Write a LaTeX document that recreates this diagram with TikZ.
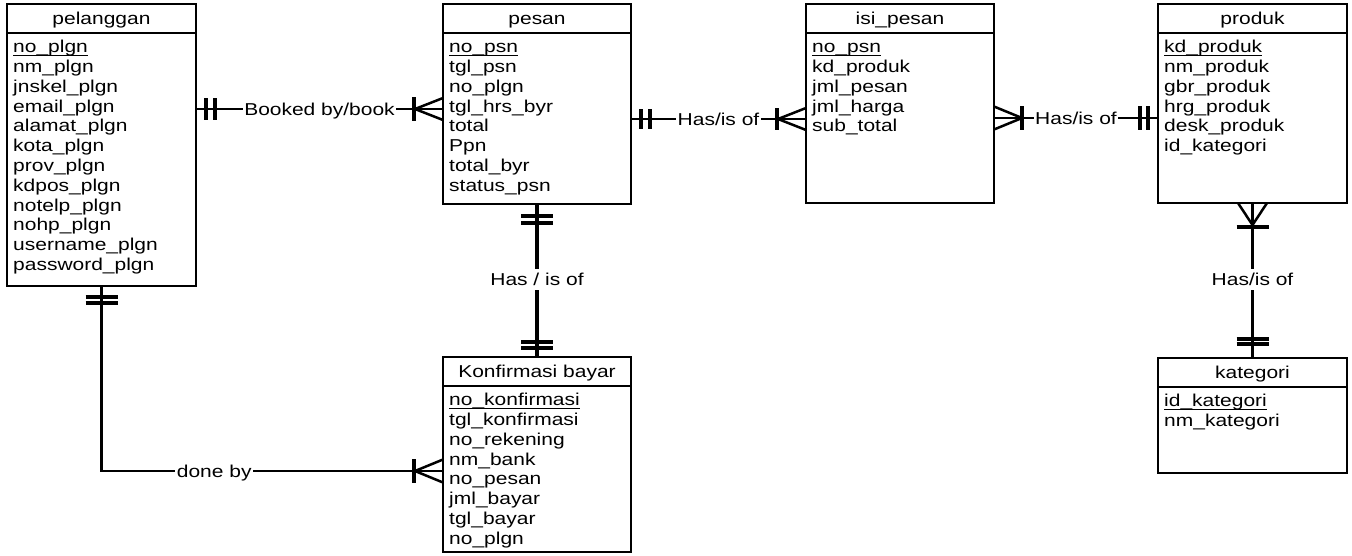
\documentclass[tikz,border=0pt]{standalone}
\usepackage{fontspec}
\setmainfont{Liberation Sans}[FakeStretch=1.22]
\usetikzlibrary{calc}

% one entity: name, left, top, width, height, title, attributes (first = key)
\newcommand\erdentity[7]{%
  \node[tbl, minimum width=#4pt, minimum height=#5pt] (#1) at (#2,#3) {};
  \draw[hdrline] ($(#1.north west)+(0,29)$) -- ($(#1.north east)+(0,29)$);
  \node[tbltitle] (#1-title) at ($(#1.north)+(0,20)$) {#6};
  \foreach \attr [count=\k from 0] in {#7} {
    \node[attr] (#1-a\k) at ($(#1.north west)+(6,48.7+19.8*\k)$) {\attr};
  }
  \draw[keyul] ($(#1-a0.base west)+(0,2.6)$) -- ($(#1-a0.base east)+(0,2.6)$);
}
% cardinality marks
\newcommand\barV[3]{\draw[bar] ($(#1)+(#2,-#3)$) -- ($(#1)+(#2,#3)$);}
\newcommand\barH[3]{\draw[bar] ($(#1)+(-#3,#2)$) -- ($(#1)+(#3,#2)$);}
\newcommand\crowH[3]{\draw[crow] ($(#1)+(0,-#3)$) -- ($(#1)+(#2,0)$) -- ($(#1)+(0,#3)$);}
\newcommand\crowV[3]{\draw[crow] ($(#1)+(-#3,0)$) -- ($(#1)+(0,#2)$) -- ($(#1)+(#3,0)$);}

\begin{document}
\begin{tikzpicture}[x=1pt,y=-1pt,
  every node/.style={font=\fontsize{17.2}{19.8}\selectfont},
  tbl/.style={draw, line width=2.7pt, inner sep=0pt, outer sep=0pt, anchor=north west},
  hdrline/.style={line width=2.7pt},
  attr/.style={inner sep=0pt, anchor=base west},
  tbltitle/.style={inner sep=0pt, anchor=base},
  keyul/.style={line width=1.3pt},
  conn/.style={line width=2.7pt},
  vconn/.style={line width=4pt},
  bar/.style={line width=3.5pt},
  crow/.style={line width=2.5pt},
  lbl/.style={fill=white, inner xsep=1.5pt, inner ysep=4.5pt, anchor=base},
]
\useasboundingbox (0,0) rectangle (1352,555);

\erdentity{pel}{7}{4}{189}{282}{pelanggan}{no\_plgn, nm\_plgn, jnskel\_plgn, email\_plgn, alamat\_plgn, kota\_plgn, prov\_plgn, kdpos\_plgn, notelp\_plgn, nohp\_plgn, username\_plgn, password\_plgn}
\erdentity{psn}{443}{4}{188}{200}{pesan}{no\_psn, tgl\_psn, no\_plgn, tgl\_hrs\_byr, total, Ppn, total\_byr, status\_psn}
\erdentity{isi}{806}{4}{188}{199}{isi\_pesan}{no\_psn, kd\_produk, jml\_pesan, jml\_harga, sub\_total}
\erdentity{prd}{1158}{4}{189}{199}{produk}{kd\_produk, nm\_produk, gbr\_produk, hrg\_produk, desk\_produk, id\_kategori}
\erdentity{kat}{1158}{358}{189}{115}{kategori}{id\_kategori, nm\_kategori}
\erdentity{kb}{443}{357}{188}{195}{Konfirmasi bayar}{no\_konfirmasi, tgl\_konfirmasi, no\_rekening, nm\_bank, no\_pesan, jml\_bayar, tgl\_bayar, no\_plgn}

% relationship levels
\coordinate (y1) at (0,109);
\coordinate (y2) at (0,119);
\coordinate (y3) at (0,118);
\coordinate (y6) at (0,471);
\coordinate (e1a) at (pel.east |- y1);
\coordinate (e1b) at (psn.west |- y1);
\coordinate (e2a) at (psn.east |- y2);
\coordinate (e2b) at (isi.west |- y2);
\coordinate (e3a) at (isi.east |- y3);
\coordinate (e3b) at (prd.west |- y3);
\coordinate (e6b) at (kb.west |- y6);

% pelanggan -- pesan
\draw[conn] (e1a) -- node[lbl, yshift=-6pt] {Booked by/book} (e1b);
\barV{e1a}{10}{11} \barV{e1a}{19}{11}
\barV{e1b}{-29}{12} \crowH{e1b}{-28}{11}

% pesan -- isi_pesan
\draw[conn] (e2a) -- node[lbl, yshift=-6pt] {Has/is of} (e2b);
\barV{e2a}{10}{10} \barV{e2a}{19}{10}
\barV{e2b}{-29}{11} \crowH{e2b}{-28}{11}

% isi_pesan -- produk
\draw[conn] (e3a) -- node[lbl, yshift=-6pt] {Has/is of} (e3b);
\crowH{e3a}{28}{11.5} \barV{e3a}{28}{12}
\barV{e3b}{-18}{12} \barV{e3b}{-10}{12}

% pesan -- Konfirmasi bayar
\draw[vconn] (psn.south) -- node[lbl, yshift=-5pt] {Has / is of} (kb.north);
\barH{psn.south}{12}{16} \barH{psn.south}{19}{16}
\barH{kb.north}{-15}{16} \barH{kb.north}{-9}{16}

% produk -- kategori
\draw[conn] (prd.south) -- node[lbl, yshift=-5pt] {Has/is of} (kat.north);
\crowV{prd.south}{22}{14.5} \barH{prd.south}{24}{16}
\barH{kat.north}{-19}{16} \barH{kat.north}{-14}{16}

% pelanggan -- Konfirmasi bayar
\draw[conn] (pel.south) |- node[lbl, pos=0.665, yshift=-6.5pt] {done by} (e6b);
\barH{pel.south}{11}{16} \barH{pel.south}{17}{16}
\barV{e6b}{-29}{12} \crowH{e6b}{-28}{11.5}
\end{tikzpicture}
\end{document}
